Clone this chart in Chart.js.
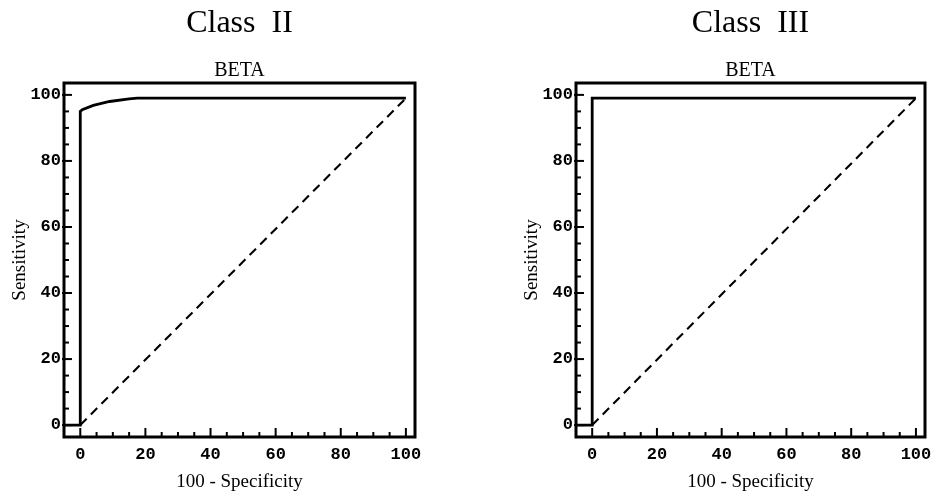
<!DOCTYPE html>
<html>
<head>
<meta charset="utf-8">
<script src="https://cdn.jsdelivr.net/npm/chart.js@4"></script>
<style>
  html, body { margin: 0; padding: 0; background: #fff; overflow: hidden; }
  canvas { position: absolute; top: 0; }
  #rocLeft { left: 0; }
  #rocRight { left: 465px; }
</style>
</head>
<body>
<canvas id="rocLeft" width="465" height="494"></canvas>
<canvas id="rocRight" width="466" height="494"></canvas>
<script>
// ROC curves (100 - specificity vs sensitivity)
const CLASS_II_X = [-5, 0, 0, 0.6, 4, 9, 15, 17.5, 100];
const CLASS_II_Y = [0, 0, 95, 95.5, 96.8, 98, 98.8, 99, 99];
const CLASS_III_X = [-5, 0, 0, 100];
const CLASS_III_Y = [0, 0, 99, 99];
// chance line
const DIAG_X = [0, 100];
const DIAG_Y = [0, 99];

const X_TICKS = [0, 20, 40, 60, 80, 100];
const Y_TICKS = [0, 20, 40, 60, 80, 100];
const MINOR_TICKS = [0, 5, 10, 15, 20, 25, 30, 35, 40, 45, 50, 55, 60, 65, 70, 75, 80, 85, 90, 95, 100];

const toPoints = (xs, ys) => xs.map((x, i) => ({ x: x, y: ys[i] }));

// box around the plot area + inward tick marks on left and bottom
const framePlugin = {
    id: 'frame',
    afterDraw(chart) {
        const { ctx, chartArea: a, scales } = chart;
        ctx.save();
        ctx.strokeStyle = '#000';
        ctx.lineWidth = 2;
        MINOR_TICKS.forEach(v => {
            const major = v % 20 === 0;
            const px = scales.x.getPixelForValue(v);
            ctx.beginPath();
            ctx.moveTo(px, a.bottom);
            ctx.lineTo(px, a.bottom - (major ? 9 : 5));
            ctx.stroke();
            const py = scales.y.getPixelForValue(v);
            ctx.beginPath();
            ctx.moveTo(a.left - (major ? 2 : 0), py);
            ctx.lineTo(a.left + (major ? 8 : 5), py);
            ctx.stroke();
        });
        ctx.lineWidth = 3;
        ctx.strokeRect(a.left, a.top, a.right - a.left, a.bottom - a.top);
        ctx.restore();
    }
};

const createRocChart = (canvasId, title, rocX, rocY, pad) => {
    const ctx = document.getElementById(canvasId);
    if (!ctx) return null;

    return new Chart(ctx, {
        type: 'scatter',
        data: {
            datasets: [
                {
                    data: toPoints(rocX, rocY),
                    showLine: true,
                    borderColor: '#000',
                    borderWidth: 2.8,
                    pointRadius: 0,
                    tension: 0
                },
                {
                    data: toPoints(DIAG_X, DIAG_Y),
                    showLine: true,
                    borderColor: '#000',
                    borderWidth: 2.1,
                    borderDash: [9, 6],
                    pointRadius: 0
                }
            ]
        },
        options: {
            responsive: false,
            animation: false,
            devicePixelRatio: 1,
            layout: { padding: { left: pad.left, right: pad.right, top: 0, bottom: 0 } },
            plugins: {
                legend: { display: false },
                tooltip: { enabled: false },
                title: {
                    display: true,
                    text: title,
                    color: '#000',
                    fullSize: false,
                    font: { family: 'Liberation Serif', size: 32, weight: 'normal', lineHeight: 1 },
                    padding: { top: 8, bottom: 21 }
                },
                subtitle: {
                    display: true,
                    text: 'BETA',
                    color: '#000',
                    fullSize: false,
                    font: { family: 'Liberation Serif', size: 20, weight: 'normal', lineHeight: 1 },
                    padding: { top: 0, bottom: 2 }
                }
            },
            scales: {
                x: {
                    type: 'linear',
                    min: -5,
                    max: 102.8,
                    grid: { display: false, drawTicks: false },
                    border: { display: false },
                    afterBuildTicks: s => { s.ticks = X_TICKS.map(v => ({ value: v })); },
                    afterFit: s => { s.height = 57; s.paddingLeft = 0; s.paddingRight = 0; },
                    ticks: {
                        autoSkip: false,
                        maxRotation: 0,
                        padding: 8,
                        color: '#000',
                        font: { family: 'Liberation Mono', size: 17, weight: 'bold' }
                    },
                    title: {
                        display: true,
                        text: '100 - Specificity',
                        color: '#000',
                        font: { family: 'Liberation Serif', size: 19 },
                        padding: { top: 0, bottom: 1 }
                    }
                },
                y: {
                    type: 'linear',
                    min: -3.6,
                    max: 103.6,
                    grid: { display: false, drawTicks: false },
                    border: { display: false },
                    afterBuildTicks: s => { s.ticks = Y_TICKS.map(v => ({ value: v })); },
                    afterFit: s => { s.width = 64; },
                    ticks: {
                        autoSkip: false,
                        padding: 3,
                        color: '#000',
                        font: { family: 'Liberation Mono', size: 17, weight: 'bold' }
                    },
                    title: {
                        display: true,
                        text: 'Sensitivity',
                        color: '#000',
                        font: { family: 'Liberation Serif', size: 19 },
                        padding: { top: 9, bottom: 0 }
                    }
                }
            }
        },
        plugins: [framePlugin]
    });
};

createRocChart('rocLeft', 'Class  II', CLASS_II_X, CLASS_II_Y, { left: 0, right: 50 });
createRocChart('rocRight', 'Class  III', CLASS_III_X, CLASS_III_Y, { left: 47, right: 6 });
</script>
</body>
</html>
